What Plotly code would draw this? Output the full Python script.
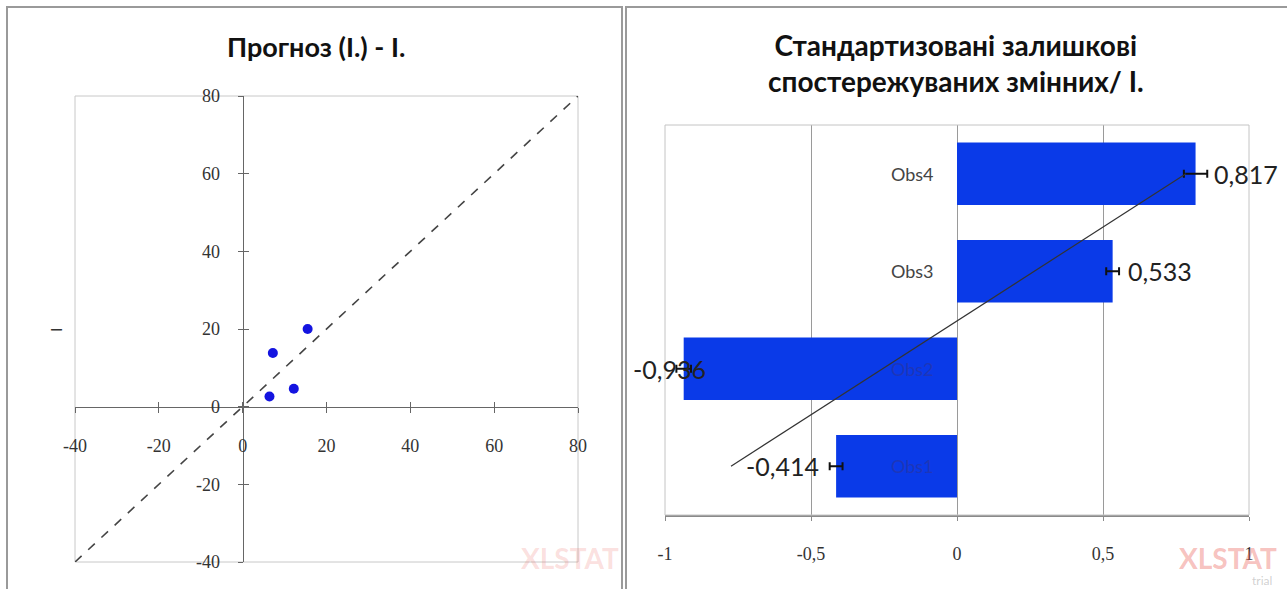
import plotly.graph_objects as go

# ---------------- data ----------------
# left chart: predicted vs observed
pred_x = [15.5, 7.2, 12.2, 6.4]
obs_y = [20.0, 13.8, 4.6, 2.6]
diag_x = [-40, 80]
diag_y = [-40, 80]
left_ticks = [-40, -20, 0, 20, 40, 60, 80]
left_ticktext = ["-40", "-20", "0", "20", "40", "60", "80"]

# right chart: standardized residuals
categories = ["Obs1", "Obs2", "Obs3", "Obs4"]
residuals = [-0.414, -0.936, 0.533, 0.817]
res_err = [0.022, 0.025, 0.022, 0.04]
trend_x = [-0.774, 0.784]
trend_y = [0, 3]
right_ticks = [-1, -0.5, 0, 0.5, 1]
right_ticktext = ["-1", "-0,5", "0", "0,5", "1"]

W, H = 1287, 589
SANS = "Lato, 'Noto Sans', sans-serif"
SERIF = "'Liberation Serif', 'DejaVu Serif', serif"

def px_x(p):
    return p / W

def px_y(p):
    return 1 - p / H

# domains
xd1 = [px_x(75), px_x(578)]
yd1 = [px_y(562), px_y(96)]
xd2 = [px_x(665), px_x(1249)]
yd2 = [px_y(515), px_y(125)]

# zero positions of the left axes (paper fractions)
x0_pos = xd1[0] + (xd1[1] - xd1[0]) * (0 - left_ticks[0]) / (left_ticks[-1] - left_ticks[0])
y0_pos = yd1[0] + (yd1[1] - yd1[0]) * (0 - left_ticks[0]) / (left_ticks[-1] - left_ticks[0])

fig = go.Figure()

# ---- left chart ----
fig.add_trace(go.Scatter(
    x=diag_x, y=diag_y, mode="lines",
    line=dict(color="#444444", width=1.6, dash="dash"),
    xaxis="x", yaxis="y", showlegend=False, hoverinfo="skip"))
fig.add_trace(go.Scatter(
    x=pred_x, y=obs_y, mode="markers",
    marker=dict(color="#1414e0", size=10),
    xaxis="x", yaxis="y", showlegend=False))

# ---- right chart ----
fig.add_trace(go.Bar(
    x=residuals, y=list(range(len(categories))), orientation="h",
    marker=dict(color="#0a3ae8", line=dict(width=0)),
    error_x=dict(type="data", array=res_err, color="#111111", thickness=2, width=4),
    xaxis="x2", yaxis="y2", showlegend=False, width=0.64))
fig.add_trace(go.Scatter(
    x=trend_x, y=trend_y, mode="lines",
    line=dict(color="#333333", width=1.2),
    xaxis="x2", yaxis="y2", showlegend=False, hoverinfo="skip"))

annotations = []
# category labels near zero line
for i, c in enumerate(categories):
    annotations.append(dict(
        x=0, y=i, xref="x2", yref="y2", text=c, showarrow=False,
        xanchor="right", yanchor="middle", xshift=-21,
        font=dict(family=SANS, size=18,
                  color="#444444" if residuals[i] > 0 else "#1e36b8")))
# value labels
label_shift = [-15, 24, 13, 16]
for i, v in enumerate(residuals):
    annotations.append(dict(
        x=v, y=i, xref="x2", yref="y2",
        text=f"{v:.3f}".replace(".", ","), showarrow=False,
        xanchor="left" if v > 0 else "right", yanchor="middle",
        xshift=label_shift[i],
        font=dict(family=SANS, size=25, color="#222222")))

# titles
annotations.append(dict(
    x=px_x(316), y=px_y(47), xref="paper", yref="paper",
    xanchor="center", yanchor="middle",
    text="<b>Прогноз (I.) - I.</b>", showarrow=False,
    font=dict(family=SANS, size=27, color="#111111")))
annotations.append(dict(
    x=px_x(956), y=px_y(63), xref="paper", yref="paper",
    xanchor="center", yanchor="middle",
    text="<b>Стандартизовані залишкові<br>спостережуваних змінних/ I.</b>",
    showarrow=False, align="center",
    font=dict(family=SANS, size=28, color="#111111")))
# left y-axis title
annotations.append(dict(
    x=px_x(55), y=px_y(330), xref="paper", yref="paper",
    xanchor="center", yanchor="middle",
    text="I", textangle=-90, showarrow=False,
    font=dict(family=SANS, size=16, color="#333333")))
# watermarks
for xx, alpha in ((570, 0.2), (1228, 0.4)):
    annotations.append(dict(
        x=px_x(xx), y=px_y(558), xref="paper", yref="paper",
        xanchor="center", yanchor="middle",
        text="<b>XLSTAT</b>", showarrow=False,
        font=dict(family=SANS, size=28, color=f"rgba(235,100,90,{alpha})")))
annotations.append(dict(
    x=px_x(1262), y=px_y(580), xref="paper", yref="paper",
    xanchor="center", yanchor="middle",
    text="trial", showarrow=False,
    font=dict(family=SANS, size=12, color="rgba(150,150,150,0.45)")))

shapes = [
    # left plot box
    dict(type="rect", xref="x domain", yref="y domain", x0=0, x1=1, y0=0, y1=1,
         line=dict(color="#c8c8c8", width=1), layer="below"),
    # right plot box
    dict(type="rect", xref="x2 domain", yref="y2 domain", x0=0, x1=1, y0=0, y1=1,
         line=dict(color="#c4c4c4", width=1), layer="above"),
    # panel frames
    dict(type="rect", xref="paper", yref="paper", x0=px_x(7), x1=px_x(622),
         y0=px_y(600), y1=px_y(7), line=dict(color="#9a9a9a", width=2)),
    dict(type="rect", xref="paper", yref="paper", x0=px_x(626), x1=px_x(1295),
         y0=px_y(600), y1=px_y(7), line=dict(color="#9a9a9a", width=2)),
]

axis_common = dict(showgrid=False, zeroline=False, automargin=False)
fig.update_layout(
    width=W, height=H, margin=dict(l=0, r=0, t=0, b=0, autoexpand=False),
    paper_bgcolor="white", plot_bgcolor="white",
    separators=", ",
    showlegend=False,
    xaxis=dict(domain=xd1, range=[left_ticks[0], left_ticks[-1]],
               anchor="free", position=y0_pos,
               showline=True, linecolor="#666666", linewidth=1,
               ticks="outside", ticklen=5, tickcolor="#666666",
               tickvals=left_ticks, ticktext=left_ticktext,
               ticklabelstandoff=18,
               tickfont=dict(family=SERIF, size=18, color="#333333"),
               **axis_common),
    yaxis=dict(domain=yd1, range=[left_ticks[0], left_ticks[-1]],
               anchor="free", position=x0_pos,
               showline=True, linecolor="#666666", linewidth=1,
               ticks="outside", ticklen=5, tickcolor="#666666",
               tickvals=left_ticks, ticktext=left_ticktext,
               ticklabelstandoff=14,
               tickfont=dict(family=SERIF, size=18, color="#333333"),
               **axis_common),
    # overlay axes for inner half of crossing ticks
    xaxis3=dict(domain=xd1, range=[left_ticks[0], left_ticks[-1]],
                anchor="free", position=y0_pos, overlaying="x",
                ticks="inside", ticklen=5, tickcolor="#666666",
                tickvals=left_ticks, showticklabels=False, **axis_common),
    yaxis3=dict(domain=yd1, range=[left_ticks[0], left_ticks[-1]],
                anchor="free", position=x0_pos, overlaying="y",
                ticks="inside", ticklen=5, tickcolor="#666666",
                tickvals=left_ticks, showticklabels=False, **axis_common),
    xaxis2=dict(domain=xd2, range=[right_ticks[0], right_ticks[-1]], anchor="y2",
                showline=True, linecolor="#8a8a8a", linewidth=1.5,
                ticks="outside", ticklen=4, tickcolor="#8a8a8a",
                tickvals=right_ticks, ticktext=right_ticktext,
                showgrid=True, gridcolor="#9a9a9a", gridwidth=1,
                ticklabelstandoff=18, zeroline=False, automargin=False,
                tickfont=dict(family=SERIF, size=18, color="#333333")),
    yaxis2=dict(domain=yd2, range=[-0.5, len(categories) - 0.5], anchor="x2",
                showticklabels=False, showgrid=False, zeroline=False,
                showline=False, automargin=False),
    annotations=annotations,
    shapes=shapes,
)

# dummy trace to activate overlay axes
fig.add_trace(go.Scatter(x=[None], y=[None], xaxis="x3", yaxis="y3",
                         showlegend=False, hoverinfo="skip"))

fig.write_html("out.html", config={"displayModeBar": False},
               post_script="document.body.style.margin='0';document.body.style.overflow='hidden';")
